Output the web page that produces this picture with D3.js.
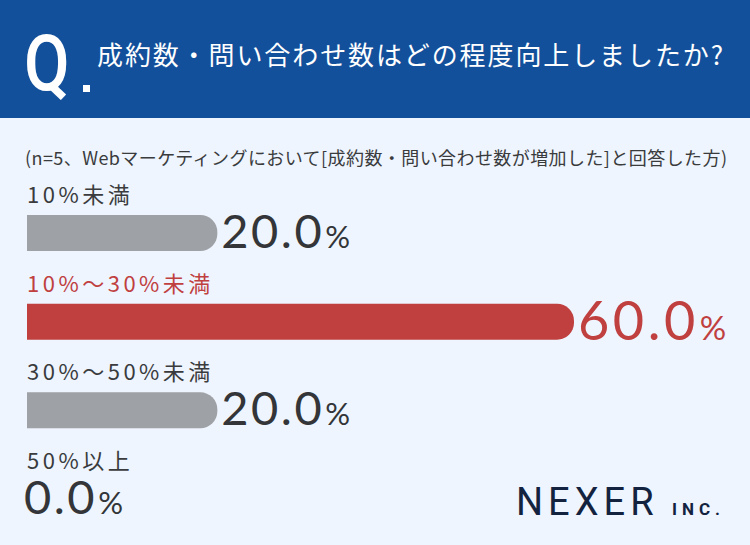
<!DOCTYPE html>
<html>
<head>
<meta charset="utf-8">
<script src="https://cdn.jsdelivr.net/npm/d3@7"></script>
<style>
  body { margin: 0; background: #eef5fe; }
  svg { display: block; }
</style>
</head>
<body>
<script>
// data
var title = "成約数・問い合わせ数はどの程度向上しましたか?";
var note = "(n=5、Webマーケティングにおいて[成約数・問い合わせ数が増加した]と回答した方)";
var categories = ["10%未満", "10%〜30%未満", "30%〜50%未満", "50%以上"];
var values = [20.0, 60.0, 20.0, 0.0];
var highlighted = ["10%〜30%未満"];

var W = 750, H = 545;
var left = 27, barH = 36;

var jp = "'Noto Sans CJK JP', 'Noto Sans', sans-serif";
var num = "Lato, 'Noto Sans', sans-serif";

var svg = d3.select("body").append("svg")
    .attr("width", W)
    .attr("height", H);

svg.append("rect")
    .attr("width", W).attr("height", H)
    .attr("fill", "#eef5fe");

// header band
svg.append("rect")
    .attr("width", W).attr("height", 118)
    .attr("fill", "#13509b");

svg.append("text")
    .attr("transform", "translate(24,90) scale(0.86,1)")
    .attr("font-family", "Roboto, sans-serif")
    .attr("font-weight", 500)
    .attr("font-size", 77)
    .attr("fill", "#fff")
    .text("Q");

svg.append("rect")
    .attr("x", 83).attr("y", 85)
    .attr("width", 7).attr("height", 7)
    .attr("fill", "#fff");

svg.append("text")
    .attr("x", 97).attr("y", 65)
    .attr("font-family", jp)
    .attr("font-size", 26)
    .attr("fill", "#fff")
    .attr("textLength", 626)
    .attr("lengthAdjust", "spacing")
    .text(title);

svg.append("text")
    .attr("x", 25).attr("y", 165)
    .attr("font-family", jp)
    .attr("font-size", 18)
    .attr("fill", "#3a3b3d")
    .attr("textLength", 702)
    .attr("lengthAdjust", "spacing")
    .text(note);

// scales
var y = d3.scalePoint()
    .domain(categories)
    .range([203, 469]);

var x = d3.scaleLinear()
    .domain([0, 60])
    .range([12, 547]);

var isHi = d => highlighted.indexOf(d.cat) >= 0;
var rows = categories.map((c, i) => ({cat: c, val: values[i]}));

function barPath(w, h, r) {
  var p = d3.path();
  p.moveTo(0, 0);
  p.lineTo(w - r, 0);
  p.arcTo(w, 0, w, r, r);
  p.lineTo(w, h - r);
  p.arcTo(w, h, w - r, h, r);
  p.lineTo(0, h);
  p.closePath();
  return p.toString();
}

var g = svg.selectAll("g.row")
    .data(rows)
  .enter().append("g")
    .attr("class", "row")
    .attr("transform", d => "translate(0," + y(d.cat) + ")");

g.append("text")
    .attr("x", left)
    .attr("y", 0)
    .attr("font-family", jp)
    .attr("font-size", 22)
    .attr("letter-spacing", 3.5)
    .attr("fill", d => isHi(d) ? "#c0403f" : "#3a3b3d")
    .text(d => d.cat);

g.filter(d => d.val > 0).append("path")
    .attr("transform", "translate(" + left + ",12)")
    .attr("d", d => barPath(x(d.val), barH, 17))
    .attr("fill", d => isHi(d) ? "#c03f3f" : "#9ea1a5");

var vt = g.append("text")
    .attr("x", d => d.val > 0 ? left + x(d.val) + 4 : left - 3)
    .attr("y", d => isHi(d) ? 48 : 45)
    .attr("font-family", num)
    .attr("fill", d => isHi(d) ? "#c03f3f" : "#333538");

vt.append("tspan")
    .attr("font-size", d => isHi(d) ? 54 : 47)
    .attr("letter-spacing", d => isHi(d) ? 3.5 : 2.5)
    .text(d => d.val.toFixed(1));

vt.append("tspan")
    .attr("font-size", d => isHi(d) ? 33 : 31)
    .attr("dx", 1)
    .text("%");

// logo
svg.append("text")
    .attr("x", 516).attr("y", 515)
    .attr("font-family", "Roboto, sans-serif")
    .attr("font-size", 38)
    .attr("letter-spacing", 5)
    .attr("fill", "#13233f")
    .text("NEXER");

svg.append("text")
    .attr("x", 672).attr("y", 515)
    .attr("font-family", "Roboto, sans-serif")
    .attr("font-weight", 700)
    .attr("font-size", 17)
    .attr("letter-spacing", 5)
    .attr("fill", "#13233f")
    .text("INC.");
</script>
</body>
</html>
